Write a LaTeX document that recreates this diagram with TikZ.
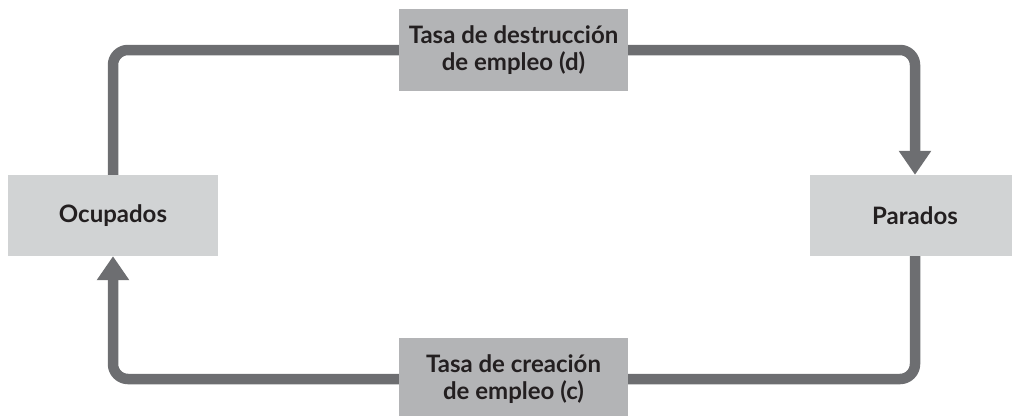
\documentclass[tikz,border=0pt]{standalone}
\usepackage{fontspec}
\setmainfont{Lato}
\usetikzlibrary{arrows.meta,positioning}
\definecolor{flujogris}{HTML}{6D6E71}
\definecolor{cajaclara}{HTML}{D1D3D4}
\definecolor{cajaoscura}{HTML}{B3B4B6}
\definecolor{texto}{HTML}{231F20}

\begin{document}
\begin{tikzpicture}[x=1pt,y=-1pt,
  every node/.style={font=\fontsize{24}{27}\selectfont\bfseries, text=texto, inner sep=0pt, align=center},
  estado/.style={fill=cajaclara, minimum width=210pt, minimum height=81pt},
  tasa/.style={fill=cajaoscura, minimum width=229pt, minimum height=82pt},
  flujo/.style={draw=flujogris, line width=10.5pt, rounded corners=15pt},
  punta/.style={-{Triangle[width=31pt,length=24pt]}}]
  \useasboundingbox (0,0) rectangle (1012,415);
  % estados
  \node[estado] (ocup) at (113,215.5) {Ocupados};
  \node[estado] (parad) at (915,215.5) {Parados};
  % tasas
  \node[tasa] (destr) at (513.5,50) {Tasa de destrucción\\de empleo (d)};
  \node[tasa] (creac) at (513.5,379) {Tasa de creación\\de empleo (c)};
  % flujos
  \draw[flujo] (ocup.north) |- (destr.west);
  \draw[flujo,punta] (destr.east) -| (parad.north);
  \draw[flujo] (parad.south) |- (creac.east);
  \draw[flujo,punta] (creac.west) -| (ocup.south);
\end{tikzpicture}
\end{document}
